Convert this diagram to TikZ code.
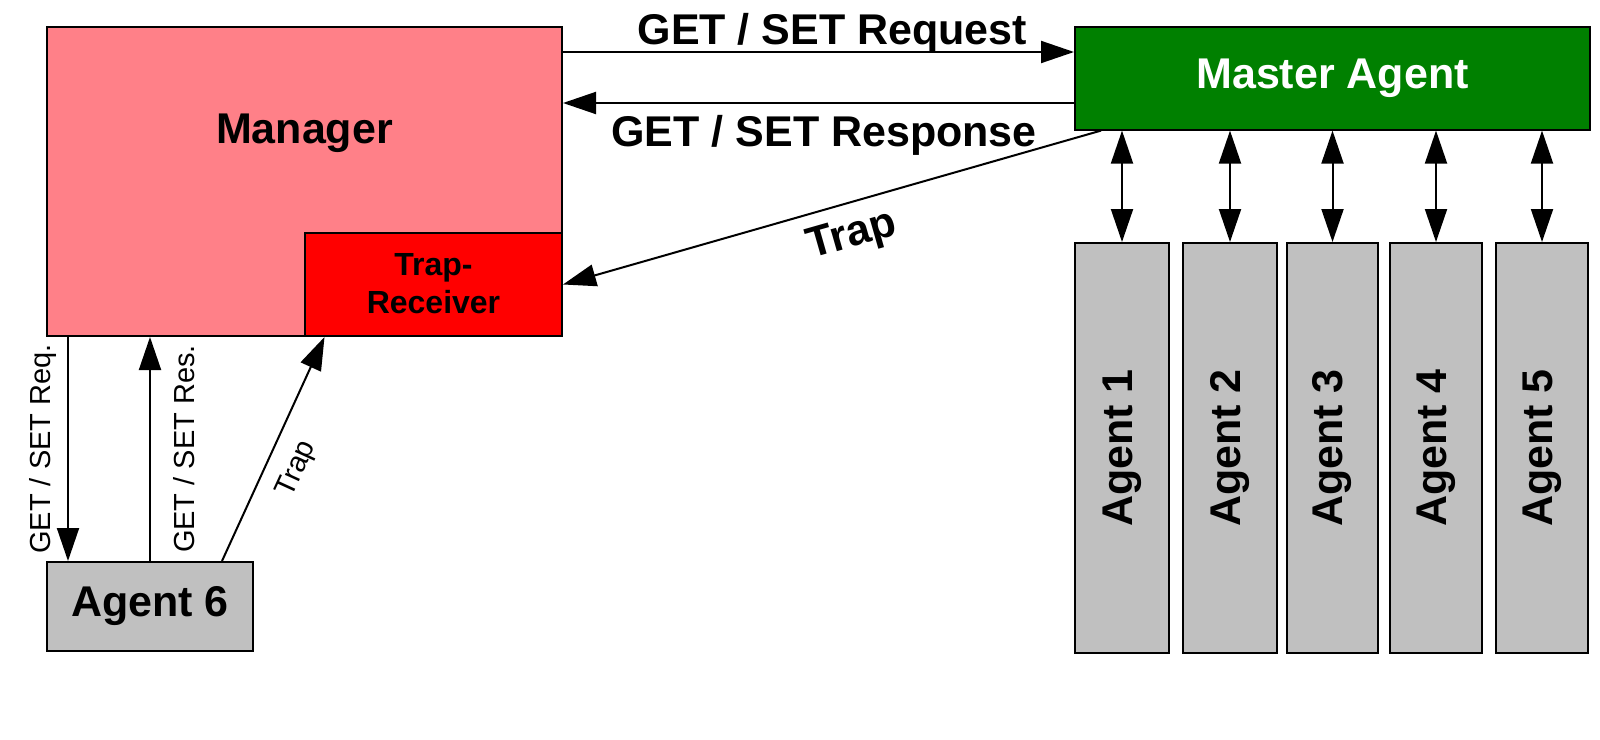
\documentclass[tikz,border=0pt]{standalone}
\usepackage{fontspec}
\setmainfont{Liberation Sans}
\usetikzlibrary{arrows.meta,fit,calc}
\definecolor{mgrpink}{RGB}{255,128,136}
\definecolor{trapred}{RGB}{255,0,0}
\definecolor{magreen}{RGB}{0,128,0}
\definecolor{aggray}{RGB}{192,192,192}
\tikzset{
  box/.style={draw=black, line width=1pt, inner sep=0pt},
  bigtxt/.style={font=\fontsize{21.5}{25}\selectfont\bfseries},
  smalltxt/.style={font=\fontsize{14.5}{17}\selectfont},
  arr/.style={line width=1pt, -{Triangle[length=16.5pt,width=11pt]}},
  darr/.style={line width=1pt, {Triangle[length=16.5pt,width=11pt]}-{Triangle[length=16.5pt,width=11pt]}},
}
\begin{document}
\begin{tikzpicture}[x=0.5pt,y=-0.5pt]
\useasboundingbox (0,0) rectangle (1600,739);
% Manager
\node[box, fill=mgrpink, fit={(47,27) (562,336)}] (mgr) {};
\node[bigtxt, anchor=base] (mgrtxt) at (304.5,143) {Manager};
\node[box, fill=trapred, fit={(305,233) (562,336)}] (trp) {};
\node[align=center, inner sep=0pt, font=\fontsize{16}{19}\selectfont\bfseries] (trptxt) at ([yshift=0.5pt]trp.center) {Trap-\\Receiver};
% Master agent
\node[box, fill=magreen, fit={(1075,27) (1590,129.6)}] (ma) {};
\node[bigtxt, text=white] (matxt) at (ma.center) {Master Agent};
% Agents 1-5
\node[box, fill=aggray, fit={(1075,243) (1169,653)}] (a1) {};
\node[box, fill=aggray, fit={(1183,243) (1277,653)}] (a2) {};
\node[box, fill=aggray, fit={(1287,243) (1378,653)}] (a3) {};
\node[box, fill=aggray, fit={(1390,243) (1482,653)}] (a4) {};
\node[box, fill=aggray, fit={(1496,243) (1588,653)}] (a5) {};
\foreach \i in {1,...,5}{
  \node[bigtxt, rotate=90] (t\i) at (a\i.center) {Agent \i};
  \draw[darr] (a\i.north |- ma.south) -- (a\i.north);
}
% Agent 6
\node[box, fill=aggray, fit={(47,562) (253,651)}] (a6) {};
\node[bigtxt] (a6txt) at (a6.center) {Agent 6};
% Manager <-> Master agent
\draw[arr] ([yshift=-13pt]mgr.north east) coordinate (rqs) -- (rqs -| ma.west)
  node[bigtxt, pos=0.527, anchor=base, yshift=4pt] (lrq) {GET / SET Request};
\draw[arr] ([yshift=-38.5pt]ma.north west) coordinate (rss) -- (rss -| mgr.east)
  node[bigtxt, pos=0.489, anchor=base, yshift=-21.5pt] (lrs) {GET / SET Response};
\draw[arr] ([xshift=13.5pt]ma.south west) -- (trp.east)
  node[bigtxt, pos=0.48, sloped, anchor=north, inner sep=6.5pt] (ltrap) {Trap};
% Agent 6 <-> Manager
\draw[arr] ([xshift=11pt]mgr.south west) coordinate (rqa) -- (rqa |- a6.north)
  node[smalltxt, midway, rotate=90, anchor=south, inner sep=5pt] (lreq) {GET / SET Req.};
\draw[arr] ([xshift=52pt]a6.north west) coordinate (rsa) -- (rsa |- mgr.south)
  node[smalltxt, midway, rotate=90, anchor=north, inner sep=11pt] (lres) {GET / SET Res.};
\draw[arr] ([xshift=88pt]a6.north west) -- ([xshift=10.25pt]trp.south west)
  node[smalltxt, pos=0.465, sloped, anchor=north, inner sep=8pt] (ltrap6) {Trap};
\end{tikzpicture}
\end{document}
